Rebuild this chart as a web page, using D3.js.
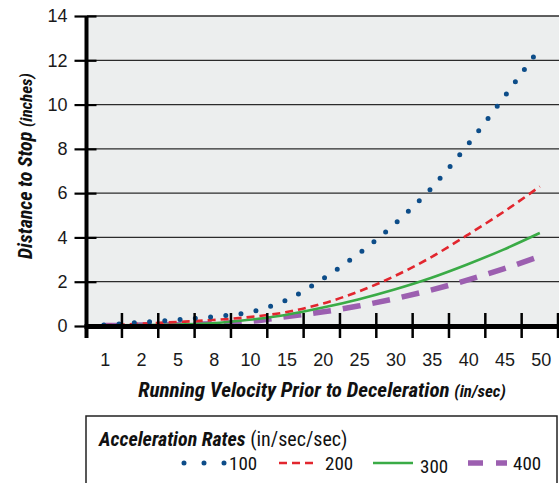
<!DOCTYPE html>
<html><head><meta charset="utf-8">
<script src="https://cdn.jsdelivr.net/npm/d3@7"></script>
<style>
html,body{margin:0;padding:0;background:#fff;}
svg{display:block;font-family:"Roboto Condensed","Liberation Sans Narrow","DejaVu Sans Condensed",sans-serif;}
</style></head>
<body><svg id="c" width="559" height="483"></svg>
<script>
const categories = ["1","2","5","8","10","15","20","25","30","35","40","45","50"];
const s100 = [0.05,0.16,0.28,0.42,0.62,1.15,2.1,3.25,4.6,6.2,8.15,10.3,12.55];
const s200 = [0.03,0.1,0.18,0.27,0.4,0.62,1.0,1.55,2.25,3.1,4.1,5.15,6.3];
const s300 = [0.02,0.04,0.07,0.12,0.28,0.5,0.82,1.2,1.65,2.17,2.78,3.45,4.2];
const s400 = [0.02,0.04,0.06,0.1,0.2,0.42,0.63,0.9,1.23,1.62,2.07,2.58,3.15];
const seriesNames = ["100","200","300","400"];
const yTicks = [0,2,4,6,8,10,12,14];

const svg = d3.select("#c");
const x = d3.scaleBand().domain(categories).range([85.6,558]);
const y = d3.scaleLinear().domain([0,14]).range([326,16]);

svg.append("rect").attr("x",87).attr("y",y(14)).attr("width",559-87).attr("height",y(0)-y(14)).attr("fill","#eceeee");
svg.append("g").selectAll("line").data(yTicks.filter(d=>d>0)).join("line")
  .attr("x1",87).attr("x2",559).attr("y1",d=>y(d)).attr("y2",d=>y(d))
  .attr("stroke","#2b2b2b").attr("stroke-width",1.3);

const styles = [
  {data:s100,color:"#0d4d89",width:5,dash:"0,15.3",cap:"round"},
  {data:s200,color:"#e2262e",width:2.6,dash:"8,5",cap:"butt"},
  {data:s300,color:"#3aab46",width:2.6,dash:null,cap:"butt"},
  {data:s400,color:"#9c5fb0",width:5.5,dash:"18,12",cap:"butt"}
];
const line = d3.line().x((d,i)=>x(categories[i])+x.bandwidth()/2).y(d=>y(d)).curve(d3.curveMonotoneX);
[3,2,1,0].forEach(k=>{
  const s=styles[k];
  svg.append("path").attr("d",line(s.data)).attr("fill","none")
    .attr("stroke",s.color).attr("stroke-width",s.width)
    .attr("stroke-dasharray",s.dash).attr("stroke-linecap",s.cap);
});

const yAxis = svg.append("g").attr("transform","translate(86.5,0)")
  .call(d3.axisLeft(y).tickValues(yTicks).tickSize(12).tickPadding(8));
yAxis.select(".domain").remove();
yAxis.selectAll(".tick line").attr("x2",10).attr("x1",-12).attr("stroke","#000").attr("stroke-width",2.2);
yAxis.selectAll(".tick text").attr("font-size",18).attr("fill","#1a1a1a").attr("x",-19);
svg.append("line").attr("x1",86.5).attr("x2",86.5).attr("y1",y(14)).attr("y2",338).attr("stroke","#000").attr("stroke-width",4);

svg.append("line").attr("x1",84.5).attr("x2",559).attr("y1",326.5).attr("y2",326.5).attr("stroke","#000").attr("stroke-width",5);
svg.append("g").selectAll("line").data(categories.slice(1).concat(["__end"])).join("line")
  .attr("x1",(d,i)=>x(categories[0])+x.step()*(i+1)).attr("x2",(d,i)=>x(categories[0])+x.step()*(i+1))
  .attr("y1",313).attr("y2",338).attr("stroke","#000").attr("stroke-width",2.5);
const xAxis = svg.append("g").attr("transform","translate(1.5,326)")
  .call(d3.axisBottom(x).tickSize(0).tickPadding(27));
xAxis.select(".domain").remove();
xAxis.selectAll(".tick text").attr("font-size",18).attr("fill","#1a1a1a");

const xt = svg.append("text").attr("x",322).attr("y",397).attr("text-anchor","middle")
  .attr("font-weight","bold").attr("font-style","italic").attr("fill","#111").attr("font-size",21);
xt.append("tspan").text("Running Velocity Prior to Deceleration ");
xt.append("tspan").attr("font-size",17).text("(in/sec)");
const yt = svg.append("text").attr("transform","translate(32,166) rotate(-90)").attr("text-anchor","middle")
  .attr("font-weight","bold").attr("font-style","italic").attr("fill","#111").attr("font-size",20);
yt.append("tspan").text("Distance to Stop ");
yt.append("tspan").attr("font-size",17).text("(inches)");

svg.append("rect").attr("x",86).attr("y",416).attr("width",471).attr("height",80)
  .attr("fill","#fff").attr("stroke","#222").attr("stroke-width",1.5);
const lt = svg.append("text").attr("x",99).attr("y",446).attr("font-size",20).attr("fill","#111");
lt.append("tspan").attr("font-weight","bold").attr("font-style","italic").text("Acceleration Rates ");
lt.append("tspan").text("(in/sec/sec)");
const legX = [[184,226],[279,318],[373,413],[468,507]];
const legTextX = [229,325,420,513];
const legTextY = [470,470,473,470];
styles.forEach((s,k)=>{
  svg.append("line").attr("x1",legX[k][0]).attr("x2",legX[k][1]).attr("y1",463).attr("y2",463)
    .attr("stroke",s.color).attr("stroke-width",s.width).attr("stroke-linecap",s.cap)
    .attr("stroke-dasharray",k===0?"0,20":(k===1?"8,5":(k===3?"15,13":null)));
  svg.append("text").attr("x",legTextX[k]).attr("y",legTextY[k]).attr("font-size",19).attr("fill","#111").text(seriesNames[k]);
});
</script></body></html>
